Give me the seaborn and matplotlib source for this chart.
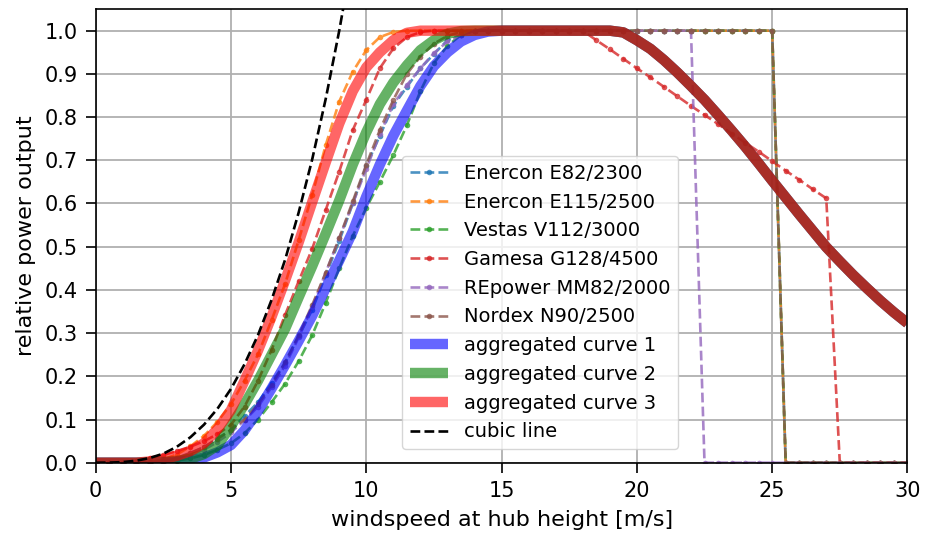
import numpy as np
import seaborn as sns
import matplotlib
matplotlib.use("Agg")
import matplotlib.pyplot as plt

# style first, fonts after (set_style resets font.family)
sns.set_style("ticks")
plt.rcParams['font.family'] = ['DejaVu Sans']
plt.rcParams['font.size'] = 14
plt.rcParams['text.color'] = 'black'
plt.rcParams['axes.labelcolor'] = 'black'

# wind speeds of the power curve points [m/s]
wind_speed = np.arange(0, 30.5, 0.5)

# relative power output of single turbines
e82_2300 = [0, 0, 0, 0, 0.001, 0.006, 0.011, 0.023, 0.036, 0.056,
            0.076, 0.108, 0.14, 0.185, 0.231, 0.293, 0.354, 0.434, 0.513, 0.6,
            0.687, 0.757, 0.826, 0.87, 0.913, 0.946, 0.978, 0.99, 1.0, 1.0,
            1.0, 1.0, 1.0, 1.0, 1.0, 1.0, 1.0, 1.0, 1.0, 1.0,
            1.0, 1.0, 1.0, 1.0, 1.0, 1.0, 1.0, 1.0, 1.0, 1.0,
            1.0, 0, 0, 0, 0, 0, 0, 0, 0, 0,
            0]
e115_2500 = [0, 0, 0, 0, 0.001, 0.008, 0.019, 0.038, 0.062, 0.095,
             0.136, 0.19, 0.251, 0.33, 0.414, 0.515, 0.62, 0.735, 0.836, 0.905,
             0.955, 0.985, 0.997, 1.0, 1.0, 1.0, 1.0, 1.0, 1.0, 1.0,
             1.0, 1.0, 1.0, 1.0, 1.0, 1.0, 1.0, 1.0, 1.0, 1.0,
             1.0, 1.0, 1.0, 1.0, 1.0, 1.0, 1.0, 1.0, 1.0, 1.0,
             1.0, 0, 0, 0, 0, 0, 0, 0, 0, 0,
             0]
v112_3000 = [0, 0, 0, 0, 0, 0, 0.005, 0.01, 0.018, 0.03,
             0.045, 0.068, 0.1, 0.14, 0.183, 0.235, 0.295, 0.37, 0.45, 0.525,
             0.59, 0.65, 0.712, 0.781, 0.86, 0.925, 0.965, 0.99, 1.0, 1.0,
             1.0, 1.0, 1.0, 1.0, 1.0, 1.0, 1.0, 1.0, 1.0, 1.0,
             1.0, 1.0, 1.0, 1.0, 1.0, 1.0, 1.0, 1.0, 1.0, 1.0,
             1.0, 0, 0, 0, 0, 0, 0, 0, 0, 0,
             0]
g128_4500 = [0, 0, 0, 0.003, 0.01, 0.018, 0.027, 0.037, 0.05, 0.066,
             0.088, 0.13, 0.19, 0.261, 0.342, 0.42, 0.495, 0.585, 0.674, 0.77,
             0.84, 0.913, 0.959, 0.985, 0.997, 1.0, 1.0, 1.0, 1.0, 1.0,
             1.0, 1.0, 1.0, 1.0, 1.0, 1.0, 1.0, 0.978, 0.957, 0.935,
             0.913, 0.892, 0.87, 0.848, 0.826, 0.805, 0.784, 0.762, 0.741, 0.72,
             0.698, 0.676, 0.655, 0.633, 0.612, 0, 0, 0, 0, 0,
             0]
mm82_2000 = [0, 0, 0, 0, 0, 0.002, 0.009, 0.018, 0.03, 0.048,
             0.07, 0.098, 0.13, 0.175, 0.225, 0.29, 0.36, 0.44, 0.52, 0.6,
             0.68, 0.76, 0.83, 0.874, 0.913, 0.948, 0.975, 0.99, 1.0, 1.0,
             1.0, 1.0, 1.0, 1.0, 1.0, 1.0, 1.0, 1.0, 1.0, 1.0,
             1.0, 1.0, 1.0, 1.0, 1.0, 0, 0, 0, 0, 0,
             0, 0, 0, 0, 0, 0, 0, 0, 0, 0,
             0]
n90_2500 = [0, 0, 0, 0, 0, 0.003, 0.01, 0.022, 0.036, 0.055,
            0.076, 0.1, 0.135, 0.18, 0.232, 0.295, 0.365, 0.44, 0.52, 0.605,
            0.69, 0.77, 0.84, 0.9, 0.94, 0.97, 0.988, 0.997, 1.0, 1.0,
            1.0, 1.0, 1.0, 1.0, 1.0, 1.0, 1.0, 1.0, 1.0, 1.0,
            1.0, 1.0, 1.0, 1.0, 1.0, 1.0, 1.0, 1.0, 1.0, 1.0,
            1.0, 0, 0, 0, 0, 0, 0, 0, 0, 0,
            0]

# aggregated (smoothed) curves
agg_curve_1 = [0, 0, 0, 0, 0, 0.001, 0.002, 0.005, 0.012, 0.024,
               0.041, 0.075, 0.12, 0.172, 0.226, 0.282, 0.34, 0.404, 0.468, 0.535,
               0.616, 0.69, 0.757, 0.815, 0.872, 0.918, 0.95, 0.975, 0.99, 0.998,
               1.0, 1.0, 1.0, 1.0, 1.0, 1.0, 1.0, 1.0, 1.0, 0.996,
               0.978, 0.958, 0.932, 0.903, 0.872, 0.84, 0.805, 0.769, 0.732, 0.693,
               0.653, 0.614, 0.575, 0.537, 0.499, 0.466, 0.434, 0.404, 0.375, 0.348,
               0.323]
agg_curve_2 = [0, 0, 0, 0, 0.001, 0.002, 0.004, 0.009, 0.02, 0.04,
               0.085, 0.135, 0.19, 0.25, 0.31, 0.383, 0.455, 0.53, 0.607, 0.69,
               0.765, 0.83, 0.88, 0.92, 0.955, 0.978, 0.993, 0.999, 1.0, 1.0,
               1.0, 1.0, 1.0, 1.0, 1.0, 1.0, 1.0, 1.0, 1.0, 0.996,
               0.978, 0.958, 0.932, 0.903, 0.872, 0.84, 0.805, 0.769, 0.732, 0.693,
               0.653, 0.614, 0.575, 0.537, 0.499, 0.466, 0.434, 0.404, 0.375, 0.348,
               0.323]
agg_curve_3 = [0, 0, 0, 0, 0.003, 0.008, 0.016, 0.027, 0.045, 0.078,
               0.122, 0.19, 0.26, 0.338, 0.422, 0.51, 0.603, 0.695, 0.785, 0.86,
               0.915, 0.95, 0.978, 0.995, 1.0, 1.0, 1.0, 1.0, 1.0, 1.0,
               1.0, 1.0, 1.0, 1.0, 1.0, 1.0, 1.0, 1.0, 1.0, 0.996,
               0.978, 0.958, 0.932, 0.903, 0.872, 0.84, 0.805, 0.769, 0.732, 0.693,
               0.653, 0.614, 0.575, 0.537, 0.499, 0.466, 0.434, 0.404, 0.375, 0.348,
               0.323]

# cubic reference line
cubic_speed = [0, 0.5, 1, 1.5, 2, 2.5, 3, 3.5, 4, 4.5,
               5, 5.5, 6, 6.5, 7, 7.5, 8, 8.5, 9, 9.5]
cubic_power = [0, 0.0002, 0.0014, 0.0046, 0.011, 0.021, 0.037, 0.059, 0.088, 0.125,
               0.171, 0.228, 0.296, 0.377, 0.47, 0.579, 0.702, 0.842, 1.0, 1.176]

turbines = [('Enercon E82/2300', e82_2300, 'tab:blue'),
            ('Enercon E115/2500', e115_2500, 'tab:orange'),
            ('Vestas V112/3000', v112_3000, 'tab:green'),
            ('Gamesa G128/4500', g128_4500, 'tab:red'),
            ('REpower MM82/2000', mm82_2000, 'tab:purple'),
            ('Nordex N90/2500', n90_2500, 'tab:brown')]
aggregated = [('aggregated curve 1', agg_curve_1, 'blue'),
              ('aggregated curve 2', agg_curve_2, 'green'),
              ('aggregated curve 3', agg_curve_3, 'red')]

fig = plt.figure(figsize=(9.33, 5.34), dpi=100)
ax = fig.add_axes([0.1026, 0.1335, 0.870, 0.8495])

for label, values, color in turbines:
    sns.lineplot(x=wind_speed, y=values, ax=ax, color=color, linestyle='--',
                 marker='.', markersize=8, markeredgewidth=0, linewidth=1.9,
                 alpha=0.8, label=label)

for label, values, color in aggregated:
    sns.lineplot(x=wind_speed, y=values, ax=ax, color=color, linewidth=7.5,
                 alpha=0.6, solid_capstyle='butt', solid_joinstyle='round',
                 label=label)

sns.lineplot(x=cubic_speed, y=cubic_power, ax=ax, color='black',
             linestyle='--', linewidth=1.9, label='cubic line')

ax.set_xlim(0, 30)
ax.set_ylim(0, 1.05)
ax.set_xticks(range(0, 31, 5))
ax.set_yticks(np.arange(0, 1.01, 0.1))
ax.set_yticklabels([f'{t:.1f}' for t in np.arange(0, 1.01, 0.1)])
ax.grid(True, color='#b0b0b0', linewidth=1.3)
for spine in ax.spines.values():
    spine.set_color('black')
    spine.set_linewidth(1.2)
ax.tick_params(colors='black', labelcolor='black', length=7, width=1.2, pad=6,
               labelsize=15)
ax.set_xlabel('windspeed at hub height [m/s]', fontsize=16, labelpad=7,
              color='black')
ax.set_ylabel('relative power output', fontsize=16, labelpad=6, color='black')

leg = ax.legend(loc='lower left', bbox_to_anchor=(0.377, 0.03), borderaxespad=0,
                fontsize=14, framealpha=0.8)
for text in leg.get_texts():
    text.set_color('black')

plt.savefig('out.png', dpi=100)
